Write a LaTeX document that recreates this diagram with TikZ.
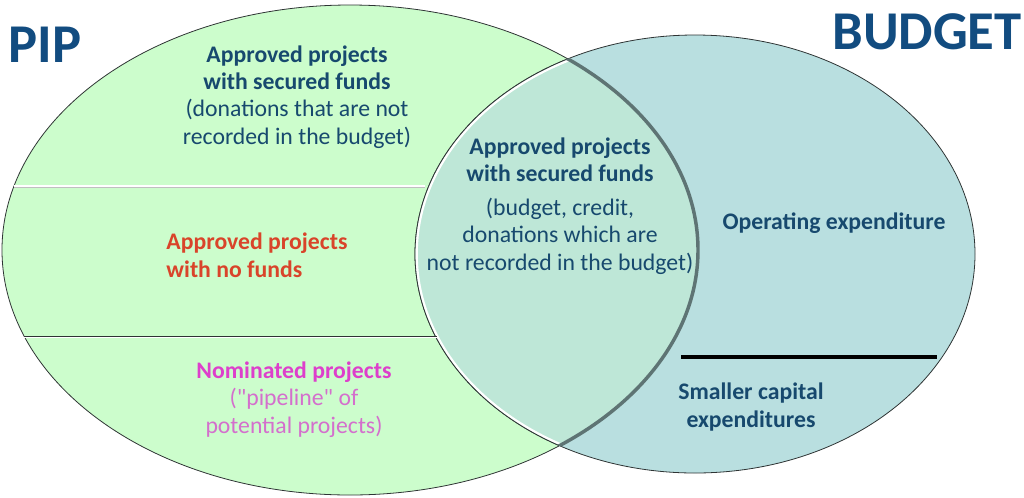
\documentclass[tikz,border=0pt]{standalone}
\usepackage{fontspec}
\setmainfont{Carlito}[Ligatures=TeXOff]
\definecolor{pipgreen}{HTML}{CCFDCC}
\definecolor{budgetblue}{HTML}{B9DFE0}
\definecolor{overlapmint}{HTML}{BEE7D7}
\definecolor{titleblue}{HTML}{124C80}
\definecolor{textblue}{HTML}{17496E}
\definecolor{redtext}{HTML}{D9442A}
\definecolor{magtext}{HTML}{DD3FCB}
\definecolor{magsoft}{HTML}{D46FCC}
\definecolor{arcgray}{HTML}{5E7474}
\definecolor{rimgray}{HTML}{2E3434}
\begin{document}
\begin{tikzpicture}[x=0.75pt,y=-0.75pt,
  title/.style={font=\fontsize{41}{41}\selectfont\bfseries, text=titleblue, inner sep=0pt},
  body/.style={font=\fontsize{17.8}{20.5}\selectfont, align=center, inner sep=0pt, anchor=base},
  rim/.style={draw=rimgray, line width=0.6pt},
  pipshape/.style={x radius=261pt, y radius=183.75pt},
  budshape/.style={x radius=210pt, y radius=164.25pt}]
\useasboundingbox (0,0) rectangle (1024,497);

\coordinate (pipc) at (350,250);
\coordinate (budc) at (695,254);

% the two sets
\fill[pipgreen] (pipc) ellipse [pipshape];
\draw[rim] (pipc) ellipse [pipshape];
\fill[budgetblue] (budc) ellipse [budshape];
\draw[rim] (budc) ellipse [budshape];

% overlap of the two sets
\begin{scope}
  \clip (pipc) ellipse [pipshape];
  \fill[overlapmint] (budc) ellipse [budshape];
  \draw[white, line width=1.8pt] (budc) ellipse [x radius=208.8pt, y radius=163pt];
  \draw[rim] (budc) ellipse [budshape];
\end{scope}
\begin{scope}
  \clip (budc) ellipse [budshape];
  \draw[arcgray, line width=2.6pt] (pipc) ellipse [pipshape];
\end{scope}

% divisions of the PIP set
\coordinate (d1a) at (14,186);
\coordinate (d1b) at (425,186);
\coordinate (d2a) at (24,336);
\coordinate (d2b) at (437,336);
\draw[white, line width=1.6pt] (d1a) -- (d1b);
\draw[black!25, line width=0.3pt] ([yshift=-1.2pt]d1a) -- ([yshift=-1.2pt]d1b);
\draw[white, line width=1.6pt] ([yshift=-1pt]d2a) -- ([yshift=-1pt]d2b);
\draw[rimgray, line width=0.6pt] (d2a) -- (d2b);

% division of the budget set
\coordinate (d3a) at (681,357);
\coordinate (d3b) at (937,357);
\draw[black, line width=3pt] (d3a) -- (d3b);

% titles
\node[title] (piptitle) at (45,45) {PIP};
\node[title] (budtitle) at (927,32) {BUDGET};

% labels (each placed by the baseline of its last line)
\node[body, text=textblue] (pipfunded) at (297,144)
  {\textbf{Approved projects}\\ \textbf{with secured funds}\\
   (donations that are not\\ recorded in the budget)};
\node[body, text=redtext, align=left] (nofunds) at (257,277)
  {\textbf{Approved projects}\\ \textbf{with no funds}};
\node[body, text=magtext] (nominated) at (294,433)
  {\textbf{Nominated projects}\\ \textcolor{magsoft}{("pipeline" of}\\ \textcolor{magsoft}{potential projects)}};
\node[body, text=textblue] (bothfunded) at (560,270)
  {\textbf{Approved projects}\\ \textbf{with secured funds}\\[5pt]
   (budget, credit,\\ donations which are\\ not recorded in the budget)};
\node[body, text=textblue] (operating) at (834,229)
  {\textbf{Operating expenditure}};
\node[body, text=textblue] (capital) at (751,427)
  {\textbf{Smaller capital}\\ \textbf{expenditures}};
\end{tikzpicture}
\end{document}
